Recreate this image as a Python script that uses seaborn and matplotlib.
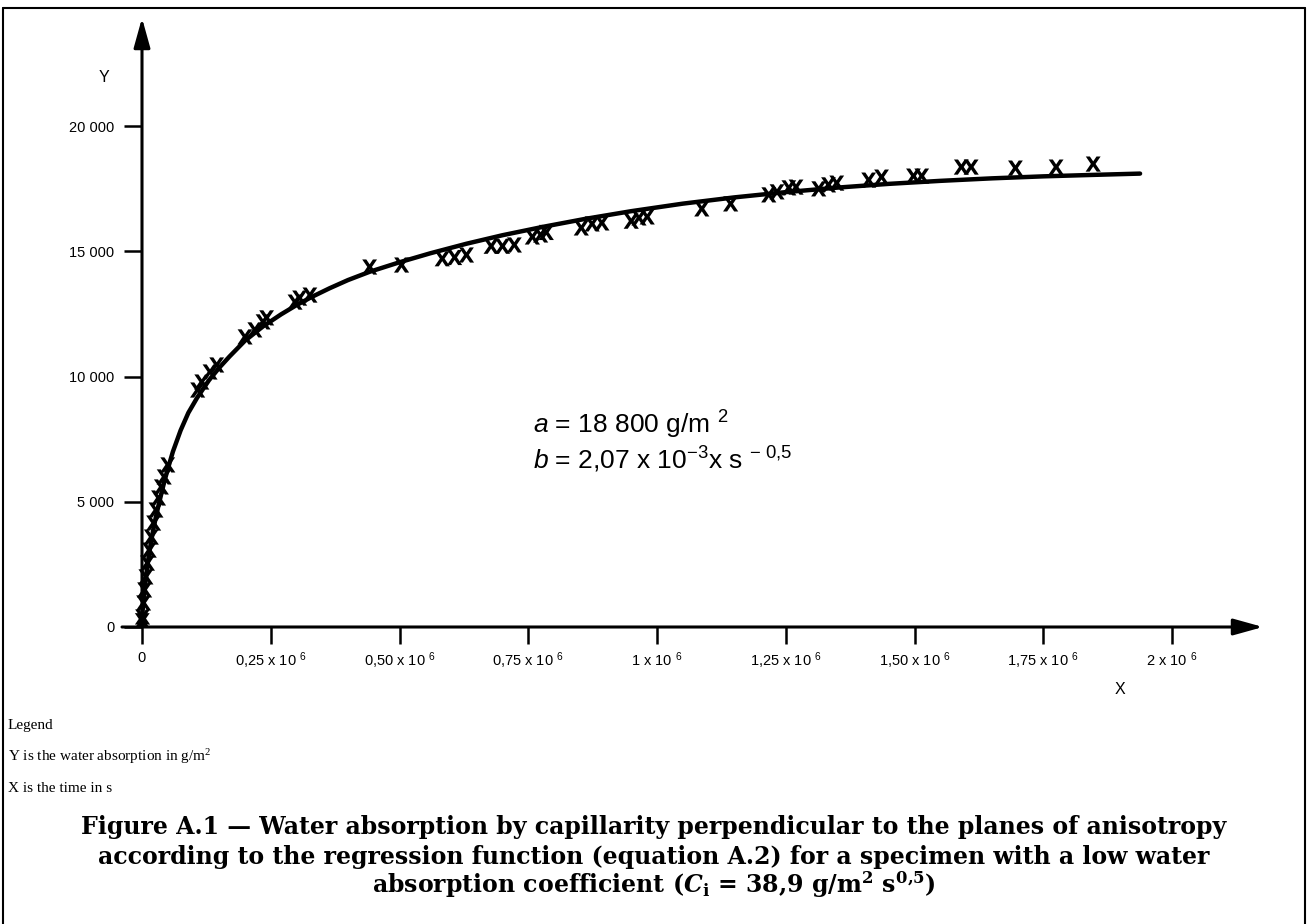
import matplotlib
matplotlib.use("Agg")
import matplotlib.pyplot as plt
import seaborn as sns
import pandas as pd
from matplotlib.lines import Line2D

# ---------------- data ----------------
# measured points: time in s, water absorption in g/m2
time_s = [500, 1000, 3000, 5000, 7500, 10500, 14000, 18000, 22500, 27000,
          32000, 37500, 43000, 50000,
          108000, 116000, 132000, 145000, 200000, 219000, 235000, 242000,
          297000, 306000, 326000, 442000, 504000,
          583000, 607000, 630000, 678000, 700000, 723000,
          758000, 774000, 785000, 853000, 874000, 893000,
          950000, 965000, 981000, 1087000, 1143000,
          1217000, 1233000, 1256000, 1270000, 1314000, 1333000, 1349000,
          1411000, 1436000, 1498000, 1514000, 1591000, 1610000,
          1696000, 1775000, 1847000]
absorption = [250, 400, 960, 1480, 2000, 2550, 3070, 3590, 4150, 4670,
              5150, 5590, 5990, 6470,
              9460, 9780, 10180, 10460, 11580, 11860, 12180, 12340,
              12970, 13130, 13250, 14370, 14450,
              14700, 14750, 14850, 15200, 15200, 15250,
              15570, 15650, 15750, 15930, 16090, 16130,
              16200, 16330, 16370, 16690, 16890,
              17250, 17370, 17530, 17560, 17490, 17650, 17720,
              17840, 17960, 18000, 18000, 18360, 18360,
              18320, 18360, 18480]

# regression curve as drawn in the reference
curve_t = [0, 1000, 3000, 5000, 7500, 10500, 14000, 18000, 22500, 27000,
           32000, 37500, 43000, 50000, 60000, 75000, 90000, 107000, 130000,
           150000, 170000, 200000, 235000, 270000, 300000, 330000, 364000,
           400000, 442000, 500000, 560000, 630000, 700000, 780000, 860000,
           950000, 1050000, 1150000, 1250000, 1350000, 1450000, 1550000,
           1650000, 1750000, 1850000, 1938000]
curve_y = [0, 600, 1100, 1500, 1950, 2450, 2950, 3450, 3950, 4400,
           4850, 5320, 5780, 6300, 7000, 7850, 8550, 9150, 9850,
           10350, 10800, 11430, 12000, 12480, 12850, 13180, 13520,
           13850, 14180, 14560, 14920, 15300, 15640, 15980, 16290,
           16600, 16900, 17150, 17360, 17540, 17690, 17810,
           17910, 17990, 18050, 18100]

x_ticks = [0, 250000, 500000, 750000, 1000000, 1250000, 1500000, 1750000, 2000000]
x_tick_labels = ["0", "0,25 x 10 $^{6}$", "0,50 x 10 $^{6}$", "0,75 x 10 $^{6}$",
                 "1 x 10 $^{6}$", "1,25 x 10 $^{6}$", "1,50 x 10 $^{6}$",
                 "1,75 x 10 $^{6}$", "2 x 10 $^{6}$"]
y_ticks = [0, 5000, 10000, 15000, 20000]
y_tick_labels = ["0", "5 000", "10 000", "15 000", "20 000"]

# ---------------- style ----------------
sns.set_theme(style="white")
plt.rcParams["font.family"] = ["Liberation Sans", "DejaVu Sans"]
plt.rcParams["text.color"] = "black"
plt.rcParams["axes.labelcolor"] = "black"
plt.rcParams["xtick.color"] = "black"
plt.rcParams["ytick.color"] = "black"
plt.rcParams["mathtext.fontset"] = "custom"
plt.rcParams["mathtext.default"] = "regular"
plt.rcParams["mathtext.rm"] = "Liberation Sans"
plt.rcParams["mathtext.it"] = "Liberation Sans:italic"
plt.rcParams["mathtext.cal"] = "DejaVu Serif:italic:bold"

W, H = 1307, 924
fig = plt.figure(figsize=(W / 100, H / 100), dpi=100)
fig.patch.set_facecolor("white")


def fx(px):
    return px / W


def fy(py):
    return 1 - py / H


# axes geometry in pixels
AX_L, AX_R, AX_T, AX_B = 122, 1263, 18, 627
X0_PX = 142.0
PX_PER_UNIT_X = 515.0 / 1e6
PX_PER_UNIT_Y = 25.05 / 1000

ax = fig.add_axes([fx(AX_L), fy(AX_B), (AX_R - AX_L) / W, (AX_B - AX_T) / H])
ax.set_facecolor("none")
xmin = (AX_L - X0_PX) / PX_PER_UNIT_X
xmax = (AX_R - X0_PX) / PX_PER_UNIT_X
ymax = (AX_B - AX_T) / PX_PER_UNIT_Y
ax.set_xlim(xmin, xmax)
ax.set_ylim(0, ymax)

for s in ax.spines.values():
    s.set_visible(False)
ax.spines["left"].set_position(("data", 0))
ax.spines["bottom"].set_position(("data", 0))

# curve and points
curve_df = pd.DataFrame({"t": curve_t, "y": curve_y})
pts_df = pd.DataFrame({"t": time_s, "y": absorption})
sns.lineplot(data=curve_df, x="t", y="y", color="black", lw=3.2, sort=False,
             estimator=None, ax=ax, zorder=3, solid_joinstyle="round",
             solid_capstyle="round")
sns.scatterplot(data=pts_df, x="t", y="y", marker=r"$\mathbf{X}$", s=120,
                color="black", edgecolor="none", linewidth=0, ax=ax, zorder=4)

# axes with arrow heads
arrow_kw = dict(arrowstyle="-|>,head_length=1.8,head_width=0.5", color="black",
                lw=2.2, shrinkA=0, shrinkB=0, mutation_scale=10)
ax.annotate("", xy=(0, ymax), xytext=(0, 0), arrowprops=arrow_kw,
            annotation_clip=False)
ax.annotate("", xy=(xmax, 0), xytext=(xmin, 0), arrowprops=arrow_kw,
            annotation_clip=False)

ax.set_xticks(x_ticks, labels=x_tick_labels)
ax.set_yticks(y_ticks, labels=y_tick_labels)
ax.tick_params(axis="x", direction="out", length=12, width=1.8, pad=5,
               labelsize=10.5, colors="black", bottom=True)
ax.tick_params(axis="y", direction="out", length=13, width=1.8, pad=7,
               labelsize=10.5, colors="black", left=True)
ax.set_xlabel("")
ax.set_ylabel("")

# axis letters
fig.text(fx(104), fy(77), "Y", fontsize=11.5, ha="center", va="center")
fig.text(fx(1120), fy(690), "X", fontsize=11.5, ha="center", va="center")

# parameter annotation
fig.text(fx(533), fy(425), r"$\mathit{a}$ = 18 800 g/m $^{2}$", fontsize=19,
         ha="left", va="center")
fig.text(fx(533), fy(460), r"$\mathit{b}$ = 2,07 x 10$^{-3}$x s $^{-\ 0{,}5}$",
         fontsize=19, ha="left", va="center")

# legend lines (serif)
leg_font = ["Liberation Serif", "DejaVu Serif"]
fig.text(fx(8), fy(725), "Legend", fontsize=11, family=leg_font, va="center")
fig.text(fx(8), fy(757), "Y is the water absorption in g/m$^{2}$", fontsize=11,
         family=leg_font, va="center")
fig.text(fx(8), fy(788), "X is the time in s", fontsize=11, family=leg_font,
         va="center")

# caption
cap_kw = dict(fontsize=17, family=["DejaVu Serif"], weight="bold", ha="center",
              va="center")
fig.text(0.5, fy(827), "Figure A.1 \u2014 Water absorption by capillarity perpendicular "
         "to the planes of anisotropy", **cap_kw)
fig.text(0.5, fy(857), "according to the regression function (equation A.2) for a "
         "specimen with a low water", **cap_kw)
fig.text(0.5, fy(885), r"absorption coefficient ($\mathcal{C}_{i}$ = 38,9 g/m$^{2}$ s$^{0{,}5}$)",
         **cap_kw)

# frame around the figure
for xs, ys in [([2.5, 2.5], [8, 924]), ([2.5, 1304.5], [8, 8]),
               ([1304.5, 1304.5], [8, 924])]:
    fig.add_artist(Line2D([fx(v) for v in xs], [fy(v) for v in ys],
                          color="black", lw=1.5))

fig.savefig("out.png", dpi=100)
